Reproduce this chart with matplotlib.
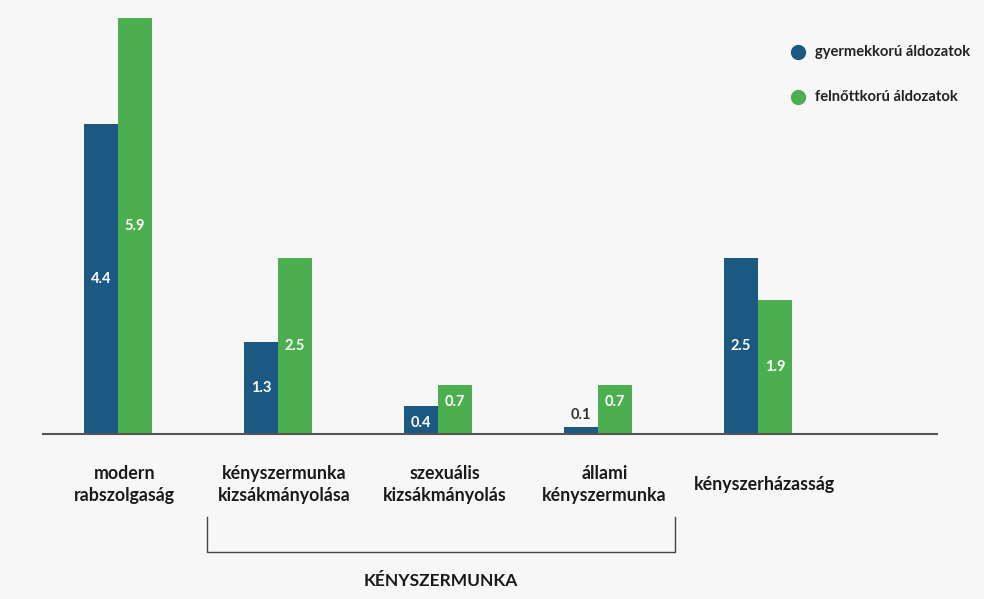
import matplotlib.pyplot as plt
import matplotlib.transforms as mtransforms
from matplotlib.lines import Line2D
import numpy as np

plt.rcParams['font.family'] = ['Lato', 'DejaVu Sans']

# adatok
kategoriak = ["modern\nrabszolgaság", "kényszermunka\nkizsákmányolása", "szexuális\nkizsákmányolás",
              "állami\nkényszermunka", "kényszerházasság"]
gyermek = [4.4, 1.3, 0.4, 0.1, 2.5]
felnott = [5.9, 2.5, 0.7, 0.7, 1.9]
sorozat_nevek = ["gyermekkorú áldozatok", "felnőttkorú áldozatok"]
csoport_cim = "KÉNYSZERMUNKA"

kek = "#1b5983"
zold = "#4caf4f"
hatter = "#f7f7f7"

fig = plt.figure(figsize=(9.84, 5.99), dpi=100, facecolor=hatter)
ax = fig.add_axes([43/984, 165/599, 894/984, 417/599])
ax.set_facecolor(hatter)

x = np.arange(len(kategoriak))
w = 0.21
ax.bar(x - w/2, gyermek, w, color=kek)
ax.bar(x + w/2, felnott, w, color=zold)

ax.set_xlim(-0.469, 5.119)
ax.set_ylim(0, 5.92)
for s in ["top", "right", "left"]:
    ax.spines[s].set_visible(False)
ax.spines["bottom"].set_color("#555555")
ax.spines["bottom"].set_linewidth(1.5)
ax.set_xticks([])
ax.set_yticks([])


def cimke(xp, v):
    if v < 0.2:
        ax.text(xp, v + 0.17, f"{v}", ha="center", va="center", color="#333333",
                fontsize=10.5, fontweight="bold")
    elif v < 1:
        ax.text(xp, v - 0.24, f"{v}", ha="center", va="center", color="white",
                fontsize=10.5, fontweight="bold")
    else:
        ax.text(xp, v / 2, f"{v}", ha="center", va="center", color="white",
                fontsize=10.5, fontweight="bold")


for i in range(len(kategoriak)):
    cimke(x[i] - w/2, gyermek[i])
    cimke(x[i] + w/2, felnott[i])

tr = mtransforms.blended_transform_factory(ax.transData, ax.transAxes)
for i, k in enumerate(kategoriak):
    ax.text(x[i] + 0.04, -0.122, k, transform=tr, ha="center", va="center",
            fontsize=12.8, fontweight="bold", color="#1a1a1a", linespacing=1.35)

# zarojel a kenyszermunka csoport alatt
bx0, bx1 = 0.556, 3.481
ax.add_line(Line2D([bx0, bx0, bx1, bx1], [-0.2, -0.283, -0.283, -0.2], transform=tr,
                   color="#444444", lw=1.0, clip_on=False))
ax.text((bx0 + bx1) / 2, -0.352, csoport_cim, transform=tr, ha="center", va="center",
        fontsize=12.5, fontweight="bold", color="#1a1a1a")

# jelmagyarazat
for j, (nev, c) in enumerate(zip(sorozat_nevek, [kek, zold])):
    yy = 1 - (52 + 45 * j) / 599
    fig.add_artist(Line2D([798/984], [yy], marker="o", markersize=10, color=c,
                          transform=fig.transFigure))
    fig.text(815/984, yy, nev, ha="left", va="center", fontsize=10.6,
             fontweight="bold", color="#222222")

plt.savefig("out.png", dpi=100, facecolor=hatter)
